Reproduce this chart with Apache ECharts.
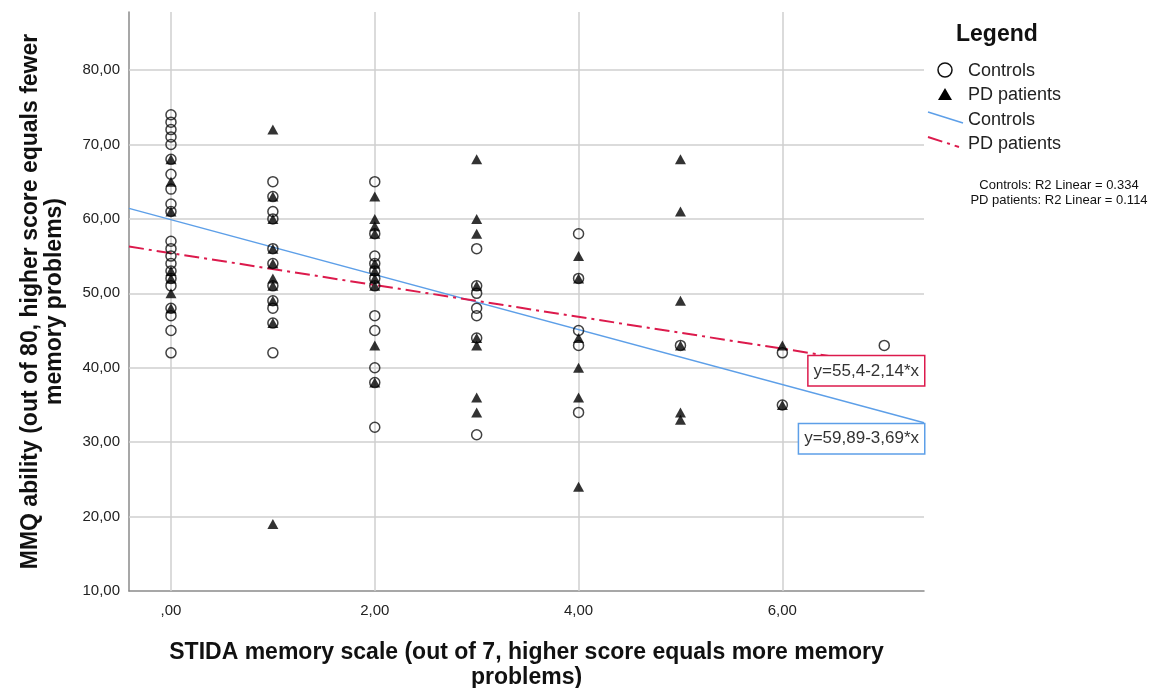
<!DOCTYPE html>
<html>
<head>
<meta charset="utf-8">
<script src="https://cdn.jsdelivr.net/npm/echarts@6/dist/echarts.min.js"></script>
<style>
html,body{margin:0;padding:0;background:#fff;}
#chart{width:1175px;height:688px;}
</style>
</head>
<body>
<div id="chart"></div>
<script>
// ---------- data ----------
const xTicks = [0, 2, 4, 6];
const yTicks = [10, 20, 30, 40, 50, 60, 70, 80];
const xRange = [-0.412, 7.39];
const yRange = [10, 87.8];

const controls = [
  [0,74],[0,73],[0,72],[0,71],[0,70],[0,68],[0,66],[0,64],[0,62],[0,61],[0,57],[0,56],[0,55],[0,54],[0,53],[0,52],[0,51],[0,48],[0,47],[0,45],[0,42],
  [1,65],[1,63],[1,61],[1,60],[1,56],[1,54],[1,51],[1,49],[1,48],[1,46],[1,42],
  [2,65],[2,58],[2,55],[2,54],[2,53],[2,52],[2,51],[2,47],[2,45],[2,40],[2,38],[2,32],
  [3,56],[3,51],[3,50],[3,48],[3,47],[3,44],[3,31],
  [4,58],[4,52],[4,45],[4,43],[4,34],
  [5,43],
  [6,42],[6,35],
  [7,43]
];
const pdPatients = [
  [0,68],[0,65],[0,61],[0,53],[0,52],[0,50],[0,48],
  [1,72],[1,63],[1,60],[1,56],[1,54],[1,52],[1,51],[1,49],[1,46],[1,19],
  [2,63],[2,60],[2,59],[2,58],[2,54],[2,53],[2,52],[2,51],[2,43],[2,38],
  [3,68],[3,60],[3,58],[3,51],[3,44],[3,43],[3,36],[3,34],
  [4,55],[4,52],[4,44],[4,40],[4,36],[4,24],
  [5,68],[5,61],[5,49],[5,43],[5,34],[5,33],
  [6,43],[6,35]
];
// regression: [intercept, slope]
const controlsFit = [59.89, -3.69];
const pdFit = [55.4, -2.14];
const controlsFitLabel = 'y=59,89-3,69*x';
const pdFitLabel = 'y=55,4-2,14*x';
const r2Labels = ['Controls: R2 Linear = 0.334', 'PD patients: R2 Linear = 0.114'];

// ---------- helpers ----------
function fitLine(c) {
  return xRange.map(x => [x, c[0] + c[1] * x]);
}
function fmt(v) {
  const s = v.toFixed(2).replace('.', ',');
  return v === 0 ? ',00' : s;
}
const FONT = '"Liberation Sans", Arial, sans-serif';
const BLUE = '#5d9fe8';
const RED = '#dc1a4c';
const GRID = '#cfcfcf';

const chart = echarts.init(document.getElementById('chart'));
const ctlLine = fitLine(controlsFit);
const pdLine = fitLine(pdFit);

chart.setOption({
  animation: false,
  backgroundColor: '#fff',
  textStyle: { fontFamily: FONT },
  grid: { left: 129, right: 251, top: 12, bottom: 97, containLabel: false, outerBoundsMode: 'none' },
  xAxis: {
    type: 'value', min: xRange[0], max: xRange[1],
    name: 'STIDA memory scale (out of 7, higher score equals more memory\nproblems)',
    nameLocation: 'middle', nameGap: 49,
    nameTextStyle: { fontSize: 23, fontWeight: 'bold', color: '#111', lineHeight: 25, fontFamily: FONT },
    axisLine: { show: true, onZero: false, lineStyle: { color: '#8a8a8a', width: 1.5 } },
    axisTick: { show: false },
    splitLine: { show: false },
    axisLabel: { customValues: xTicks, formatter: fmt, fontSize: 15, color: '#222', margin: 12, fontFamily: FONT }
  },
  yAxis: {
    type: 'value', min: yRange[0], max: yRange[1],
    name: 'MMQ ability (out of 80, higher score equals fewer\nmemory problems)',
    nameLocation: 'middle', nameGap: 62, nameRotate: 90,
    nameTextStyle: { fontSize: 23, fontWeight: 'bold', color: '#111', lineHeight: 24, fontFamily: FONT },
    axisLine: { show: true, onZero: false, lineStyle: { color: '#8a8a8a', width: 1.5 } },
    axisTick: { show: false },
    splitLine: { show: false },
    axisLabel: { customValues: yTicks, formatter: fmt, fontSize: 15, color: '#222', margin: 9, fontFamily: FONT }
  },
  series: [
    {
      name: 'Controls fit', type: 'line', data: ctlLine, showSymbol: false, z: 2,
      lineStyle: { color: BLUE, width: 1.5 },
      markLine: {
        silent: true, symbol: 'none', z: 1, animation: false,
        label: { show: false },
        lineStyle: { color: GRID, width: 1.5, type: 'solid' },
        data: yTicks.filter(v => v > yRange[0]).map(v => ({ yAxis: v }))
          .concat(xTicks.map(v => ({ xAxis: v })))
      },
      markPoint: {
        silent: true, symbol: 'rect', symbolSize: 0, z: 6,
        data: [{ coord: ctlLine[1] }],
        label: {
          show: true, formatter: controlsFitLabel, position: 'left', distance: 0, offset: [0, 16],
          fontSize: 17, color: '#333', fontFamily: FONT, backgroundColor: '#fff',
          borderColor: BLUE, borderWidth: 1.5, padding: [6, 5, 5, 5], lineHeight: 18
        }
      }
    },
    {
      name: 'PD fit', type: 'line', data: pdLine, showSymbol: false, z: 2,
      lineStyle: { color: RED, width: 2, type: [15, 5, 3, 5] },
      markPoint: {
        silent: true, symbol: 'rect', symbolSize: 0, z: 6,
        data: [{ coord: pdLine[1] }],
        label: {
          show: true, formatter: pdFitLabel, position: 'left', distance: 0, offset: [0, 0],
          fontSize: 17, color: '#333', fontFamily: FONT, backgroundColor: '#fff',
          borderColor: RED, borderWidth: 1.5, padding: [6, 5, 5, 5], lineHeight: 18
        }
      }
    },
    {
      name: 'Controls', type: 'scatter', data: controls, z: 3,
      symbol: 'circle', symbolSize: 10,
      itemStyle: { color: 'rgba(0,0,0,0)', borderColor: '#111', borderWidth: 1.5 }
    },
    {
      name: 'PD patients', type: 'scatter', data: pdPatients, z: 4,
      symbol: 'triangle', symbolSize: [11, 10],
      itemStyle: { color: '#000' }
    }
  ],
  graphic: [
    { type: 'text', left: 956, top: 23, style: { text: 'Legend', font: 'bold 23px ' + FONT, fill: '#111' } },
    { type: 'circle', shape: { cx: 945, cy: 70, r: 7 }, style: { fill: 'none', stroke: '#111', lineWidth: 1.5 } },
    { type: 'polygon', shape: { points: [[945, 88], [952, 100], [938, 100]] }, style: { fill: '#000' } },
    { type: 'line', shape: { x1: 928, y1: 112, x2: 963, y2: 123 }, style: { stroke: BLUE, lineWidth: 1.5 } },
    { type: 'line', shape: { x1: 928, y1: 137, x2: 959, y2: 147 }, style: { stroke: RED, lineWidth: 2, lineDash: [15, 5, 3, 5] } },
    { type: 'text', left: 968, top: 62, style: { text: 'Controls', font: '18px ' + FONT, fill: '#222' } },
    { type: 'text', left: 968, top: 86, style: { text: 'PD patients', font: '18px ' + FONT, fill: '#222' } },
    { type: 'text', left: 968, top: 111, style: { text: 'Controls', font: '18px ' + FONT, fill: '#222' } },
    { type: 'text', left: 968, top: 135, style: { text: 'PD patients', font: '18px ' + FONT, fill: '#222' } },
    { type: 'text', x: 1059, y: 185, style: { text: r2Labels[0], font: '13px ' + FONT, fill: '#111', align: 'center', verticalAlign: 'middle' } },
    { type: 'text', x: 1059, y: 200, style: { text: r2Labels[1], font: '13px ' + FONT, fill: '#111', align: 'center', verticalAlign: 'middle' } }
  ]
});
</script>
</body>
</html>
